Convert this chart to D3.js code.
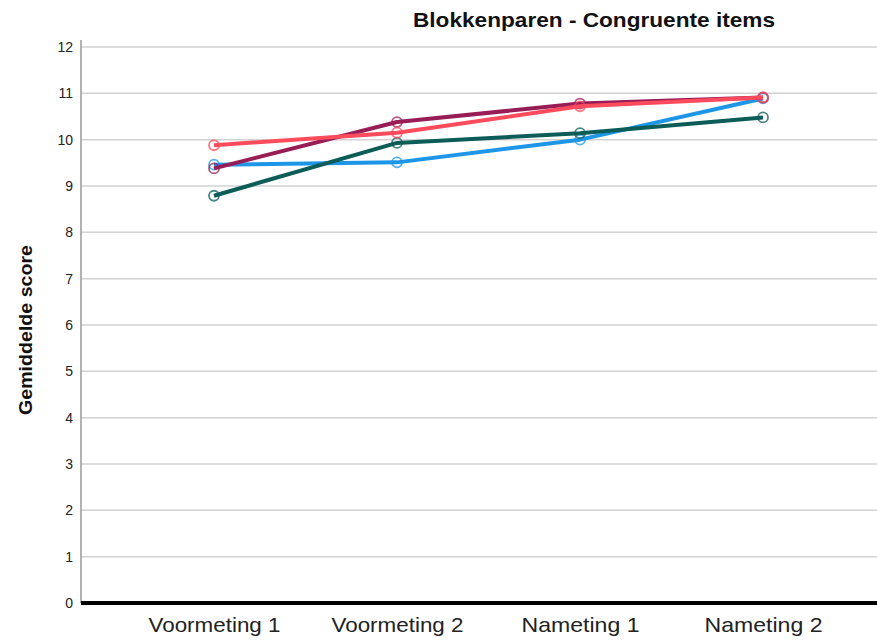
<!DOCTYPE html>
<html>
<head>
<meta charset="utf-8">
<script src="https://cdn.jsdelivr.net/npm/d3@7"></script>
<style>
  body { margin: 0; background: #fff; }
  text { font-family: "Liberation Sans", Arial, sans-serif; }
</style>
</head>
<body>
<div id="chart"></div>
<script>
var categories = ["Voormeting 1", "Voormeting 2", "Nameting 1", "Nameting 2"];
var yTicks = [0, 1, 2, 3, 4, 5, 6, 7, 8, 9, 10, 11, 12];

var seriesBlue = [9.46, 9.51, 10.0, 10.89];
var seriesGreen = [8.79, 9.93, 10.14, 10.48];
var seriesPurple = [9.38, 10.38, 10.78, 10.91];
var seriesRed = [9.88, 10.15, 10.72, 10.91];

var series = [
    { values: seriesBlue, color: "#1e96e8" },
    { values: seriesGreen, color: "#0c5c57" },
    { values: seriesPurple, color: "#981c56" },
    { values: seriesRed, color: "#ff4b5b" }
];

var width = 877;
var height = 640;
var margin = { top: 40, right: 0, bottom: 37, left: 81 };

var svg = d3.select("#chart").append("svg")
    .attr("width", width)
    .attr("height", height);

var x = d3.scalePoint()
    .domain(categories)
    .range([214, 763]);

var y = d3.scaleLinear()
    .domain([0, 12])
    .range([603, 47]);

// gridlines
svg.append("g")
    .selectAll("line")
    .data(yTicks.filter(d => d > 0))
    .join("line")
    .attr("x1", margin.left)
    .attr("x2", width)
    .attr("y1", d => y(d))
    .attr("y2", d => y(d))
    .attr("stroke", "#d2d2d2")
    .attr("stroke-width", 1.5);

// y axis
svg.append("g")
    .attr("transform", `translate(${margin.left},0)`)
    .call(d3.axisLeft(y).tickValues(yTicks).tickSize(0).tickPadding(8))
    .call(g => g.select(".domain").attr("stroke", "#9a9a9a").attr("stroke-width", 1.5)
        .attr("d", `M0,${margin.top}V${y(0)}`))
    .call(g => g.selectAll("text").attr("font-size", 14).attr("fill", "#222")
        .style("font-family", "'Liberation Sans', Arial, sans-serif"));

// x axis
svg.append("g")
    .attr("transform", `translate(0,${y(0)})`)
    .call(d3.axisBottom(x).tickSize(0).tickPadding(14))
    .call(g => g.select(".domain").attr("stroke", "#000").attr("stroke-width", 4)
        .attr("d", `M${margin.left},0H${width}`))
    .call(g => g.selectAll("text").attr("font-size", 21).attr("fill", "#222")
        .attr("textLength", d => d.length > 11 ? 132 : 118)
        .attr("lengthAdjust", "spacingAndGlyphs")
        .style("font-family", "'Liberation Sans', Arial, sans-serif"));

var line = d3.line()
    .x((d, i) => x(categories[i]))
    .y(d => y(d));

series.forEach(function (s) {
    svg.append("path")
        .datum(s.values)
        .attr("fill", "none")
        .attr("stroke", s.color)
        .attr("stroke-width", 4)
        .attr("stroke-linejoin", "round")
        .attr("d", line);

    svg.append("g")
        .selectAll("circle")
        .data(s.values)
        .join("circle")
        .attr("cx", (d, i) => x(categories[i]))
        .attr("cy", d => y(d))
        .attr("r", 5)
        .attr("fill", "none")
        .attr("stroke", s.color)
        .attr("stroke-opacity", 0.75)
        .attr("stroke-width", 1.8);
});

// title
svg.append("text")
    .attr("x", 594)
    .attr("y", 27)
    .attr("text-anchor", "middle")
    .attr("font-size", 21)
    .attr("font-weight", "bold")
    .attr("fill", "#111")
    .attr("textLength", 362)
    .attr("lengthAdjust", "spacingAndGlyphs")
    .text("Blokkenparen - Congruente items");

// y label
svg.append("text")
    .attr("transform", "translate(32,330) rotate(-90)")
    .attr("text-anchor", "middle")
    .attr("font-size", 19)
    .attr("font-weight", "bold")
    .attr("fill", "#111")
    .attr("textLength", 170)
    .attr("lengthAdjust", "spacingAndGlyphs")
    .text("Gemiddelde score");
</script>
</body>
</html>
